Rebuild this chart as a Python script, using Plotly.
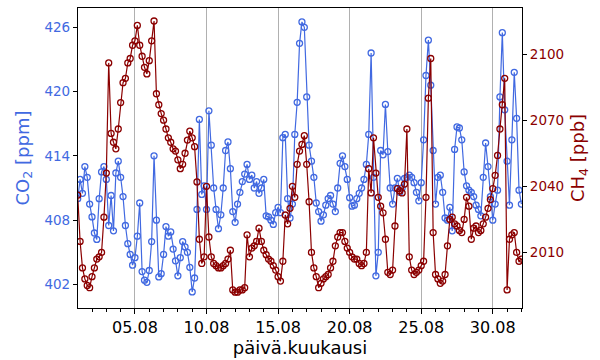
import pandas as pd
import plotly.graph_objects as go

# 4-hourly samples starting 2019-08-01 00:00
co2 = [
    410.0, 411.8, 410.5, 413.0, 412.0, 409.5, 408.3, 406.8, 406.2, 410.0,
    412.5, 413.0, 411.8, 407.5, 410.3, 407.0, 412.4, 413.5, 412.0, 410.2,
    407.5, 405.8, 404.8, 403.8, 404.5, 406.5, 409.6, 403.2, 402.4, 402.2,
    403.3, 406.0, 414.0, 408.0, 402.7, 403.0, 404.8, 407.4, 406.5, 406.9,
    405.3, 404.2, 402.8, 404.5, 406.0, 405.5, 405.0, 403.6, 401.3, 402.6,
    409.0, 417.4, 410.4, 411.2, 409.0, 418.2, 415.0, 411.0, 409.0, 407.2,
    408.5, 411.0, 414.5, 415.3, 412.8, 408.8, 407.8, 409.5, 410.6, 411.6,
    412.3, 413.2, 411.8, 412.2, 411.0, 411.6, 410.5, 411.0, 411.8, 408.4,
    408.3, 408.0, 407.6, 408.7, 409.2, 408.7, 415.7, 416.0, 410.0, 408.2,
    409.5, 416.0, 419.0, 424.5, 426.5, 426.0, 419.5, 415.0, 413.5, 412.0,
    409.6, 408.8, 407.9, 408.5, 409.4, 410.0, 410.3, 409.5, 408.8, 411.0,
    413.3, 414.0, 413.0, 411.8, 410.1, 409.3, 409.4, 410.0, 410.5, 411.0,
    411.8, 413.2, 416.0, 423.6, 412.0, 402.8, 405.0, 414.5, 414.1, 418.8,
    414.4, 411.0, 409.5, 411.0, 411.9, 410.6, 411.0, 411.9, 412.0, 412.2,
    412.0, 411.5, 410.6, 409.8, 411.5, 415.5, 421.5, 424.8, 420.6, 414.5,
    409.5, 412.0, 412.2, 410.6, 408.2, 408.0, 409.2, 407.0, 414.6, 416.7,
    416.6, 415.5, 412.5, 411.2, 410.8, 410.6, 410.2, 409.4, 409.0, 408.4,
    412.0, 415.2, 413.0, 410.2, 408.0, 409.5, 410.8, 419.5, 425.5, 418.3,
    413.5, 409.4, 415.5, 421.8, 417.5, 410.8, 409.5,
]

ch4 = [
    2036, 2015, 2003, 1998, 1995, 1994, 1999, 2003, 2007, 2008,
    2010, 2026, 2046, 2096, 2064, 2060, 2057, 2066, 2078, 2087,
    2089, 2096, 2098, 2104, 2106, 2113, 2104, 2099, 2094, 2091,
    2097, 2106, 2115, 2082, 2077, 2073, 2070, 2066, 2062, 2060,
    2057, 2056, 2052, 2048, 2050, 2055, 2061, 2065, 2062, 2058,
    2042, 2016, 2005, 2008, 2040, 2017, 2008, 2005, 2004, 2003,
    2003, 2004, 2005, 2007, 2011, 1993, 1992, 1992, 1993, 1993,
    1994, 2018, 2008, 2012, 2013, 2015, 2021, 2015, 2011, 2009,
    2007, 2006, 2004, 2002, 1999, 1997, 2006, 2027, 2023, 2030,
    2040, 2035, 2050, 2056, 2059, 2063, 2050, 2033, 2010, 2003,
    1999, 1994, 1996, 1998, 1999, 2000, 2003, 2006, 2013, 2017,
    2019, 2019, 2015, 2012, 2010, 2008, 2007, 2007, 2005, 2004,
    2005, 2010, 2048, 2037, 2062, 2046, 2035, 2031, 2028, 2016,
    2001, 2000, 2002, 2022, 2039, 2038, 2037, 2041, 2066, 2008,
    2002, 2000, 2001, 2002, 2004, 2006, 2035, 2080, 2098, 2019,
    2000, 1998, 1996, 1997, 2000, 2013, 2025, 2026, 2023, 2022,
    2020, 2019, 2025, 2035, 2031, 2016, 2021, 2022, 2019, 2020,
    2023, 2026, 2030, 2034, 2039, 2045, 2054, 2066, 2077, 2089,
    1993, 2016, 2018, 2019, 2010, 2006, 2007,
]

tick_dates = ["2019-08-05", "2019-08-10", "2019-08-15", "2019-08-20", "2019-08-25", "2019-08-30"]
tick_labels = ["05.08", "10.08", "15.08", "20.08", "25.08", "30.08"]
co2_ticks = [402, 408, 414, 420, 426]
ch4_ticks = [2010, 2040, 2070, 2100]

times = pd.date_range("2019-08-01 00:00", periods=len(co2), freq="4h")

BLUE = "#4169E1"
RED = "#8B0000"
FONT = "DejaVu Sans"

fig = go.Figure()
fig.add_trace(go.Scatter(
    x=times, y=co2, mode="lines+markers", yaxis="y",
    line=dict(color=BLUE, width=1.2),
    marker=dict(symbol="circle-open", size=6, color=BLUE, line=dict(width=1.3, color=BLUE)),
    showlegend=False,
))
fig.add_trace(go.Scatter(
    x=times, y=ch4, mode="lines+markers", yaxis="y2",
    line=dict(color=RED, width=1.2),
    marker=dict(symbol="circle-open", size=6, color=RED, line=dict(width=1.3, color=RED)),
    showlegend=False,
))

fig.update_layout(
    width=600, height=360,
    margin=dict(l=78, r=78, t=8, b=52, autoexpand=False),
    paper_bgcolor="white", plot_bgcolor="white",
    font=dict(family=FONT, color="black"),
    xaxis=dict(
        type="date", automargin=False,
        range=["2019-08-01 00:30", "2019-09-01 01:00"],
        tickvals=tick_dates, ticktext=tick_labels,
        tickfont=dict(size=16, color="black"),
        ticks="outside", ticklen=5, tickcolor="black", tickwidth=1,
        minor=dict(tick0="2019-08-01", dtick=86400000, ticks="outside", ticklen=3,
                   tickcolor="black", showgrid=False),
        showgrid=True, gridcolor="#b0b0b0", gridwidth=1,
        showline=True, linecolor="black", linewidth=1.2, mirror=True,
        zeroline=False,
        title=dict(text="päivä.kuukausi", font=dict(size=18, color="black"), standoff=0),
    ),
    yaxis=dict(
        automargin=False,
        range=[399.8, 427.8],
        tickvals=co2_ticks,
        tickfont=dict(size=13.5, color=BLUE),
        ticks="outside", ticklen=4, tickcolor="black", tickwidth=1,
        showgrid=False, zeroline=False,
        showline=True, linecolor="black", linewidth=1.2,
        title=dict(text="CO<sub>2</sub> [ppm]", font=dict(size=18, color=BLUE), standoff=10),
    ),
    yaxis2=dict(
        automargin=False,
        overlaying="y", side="right",
        range=[1984.8, 2120.9],
        tickvals=ch4_ticks,
        tickfont=dict(size=13.5, color=RED),
        ticks="outside", ticklen=4, tickcolor="black", tickwidth=1,
        showgrid=False, zeroline=False,
        showline=True, linecolor="black", linewidth=1.2,
        title=dict(text="CH<sub>4</sub> [ppb]", font=dict(size=18, color=RED), standoff=8),
    ),
)

fig.write_html(
    "out.html",
    config={"displayModeBar": False},
    post_script="document.body.style.margin='0';document.body.style.padding='0';",
)
